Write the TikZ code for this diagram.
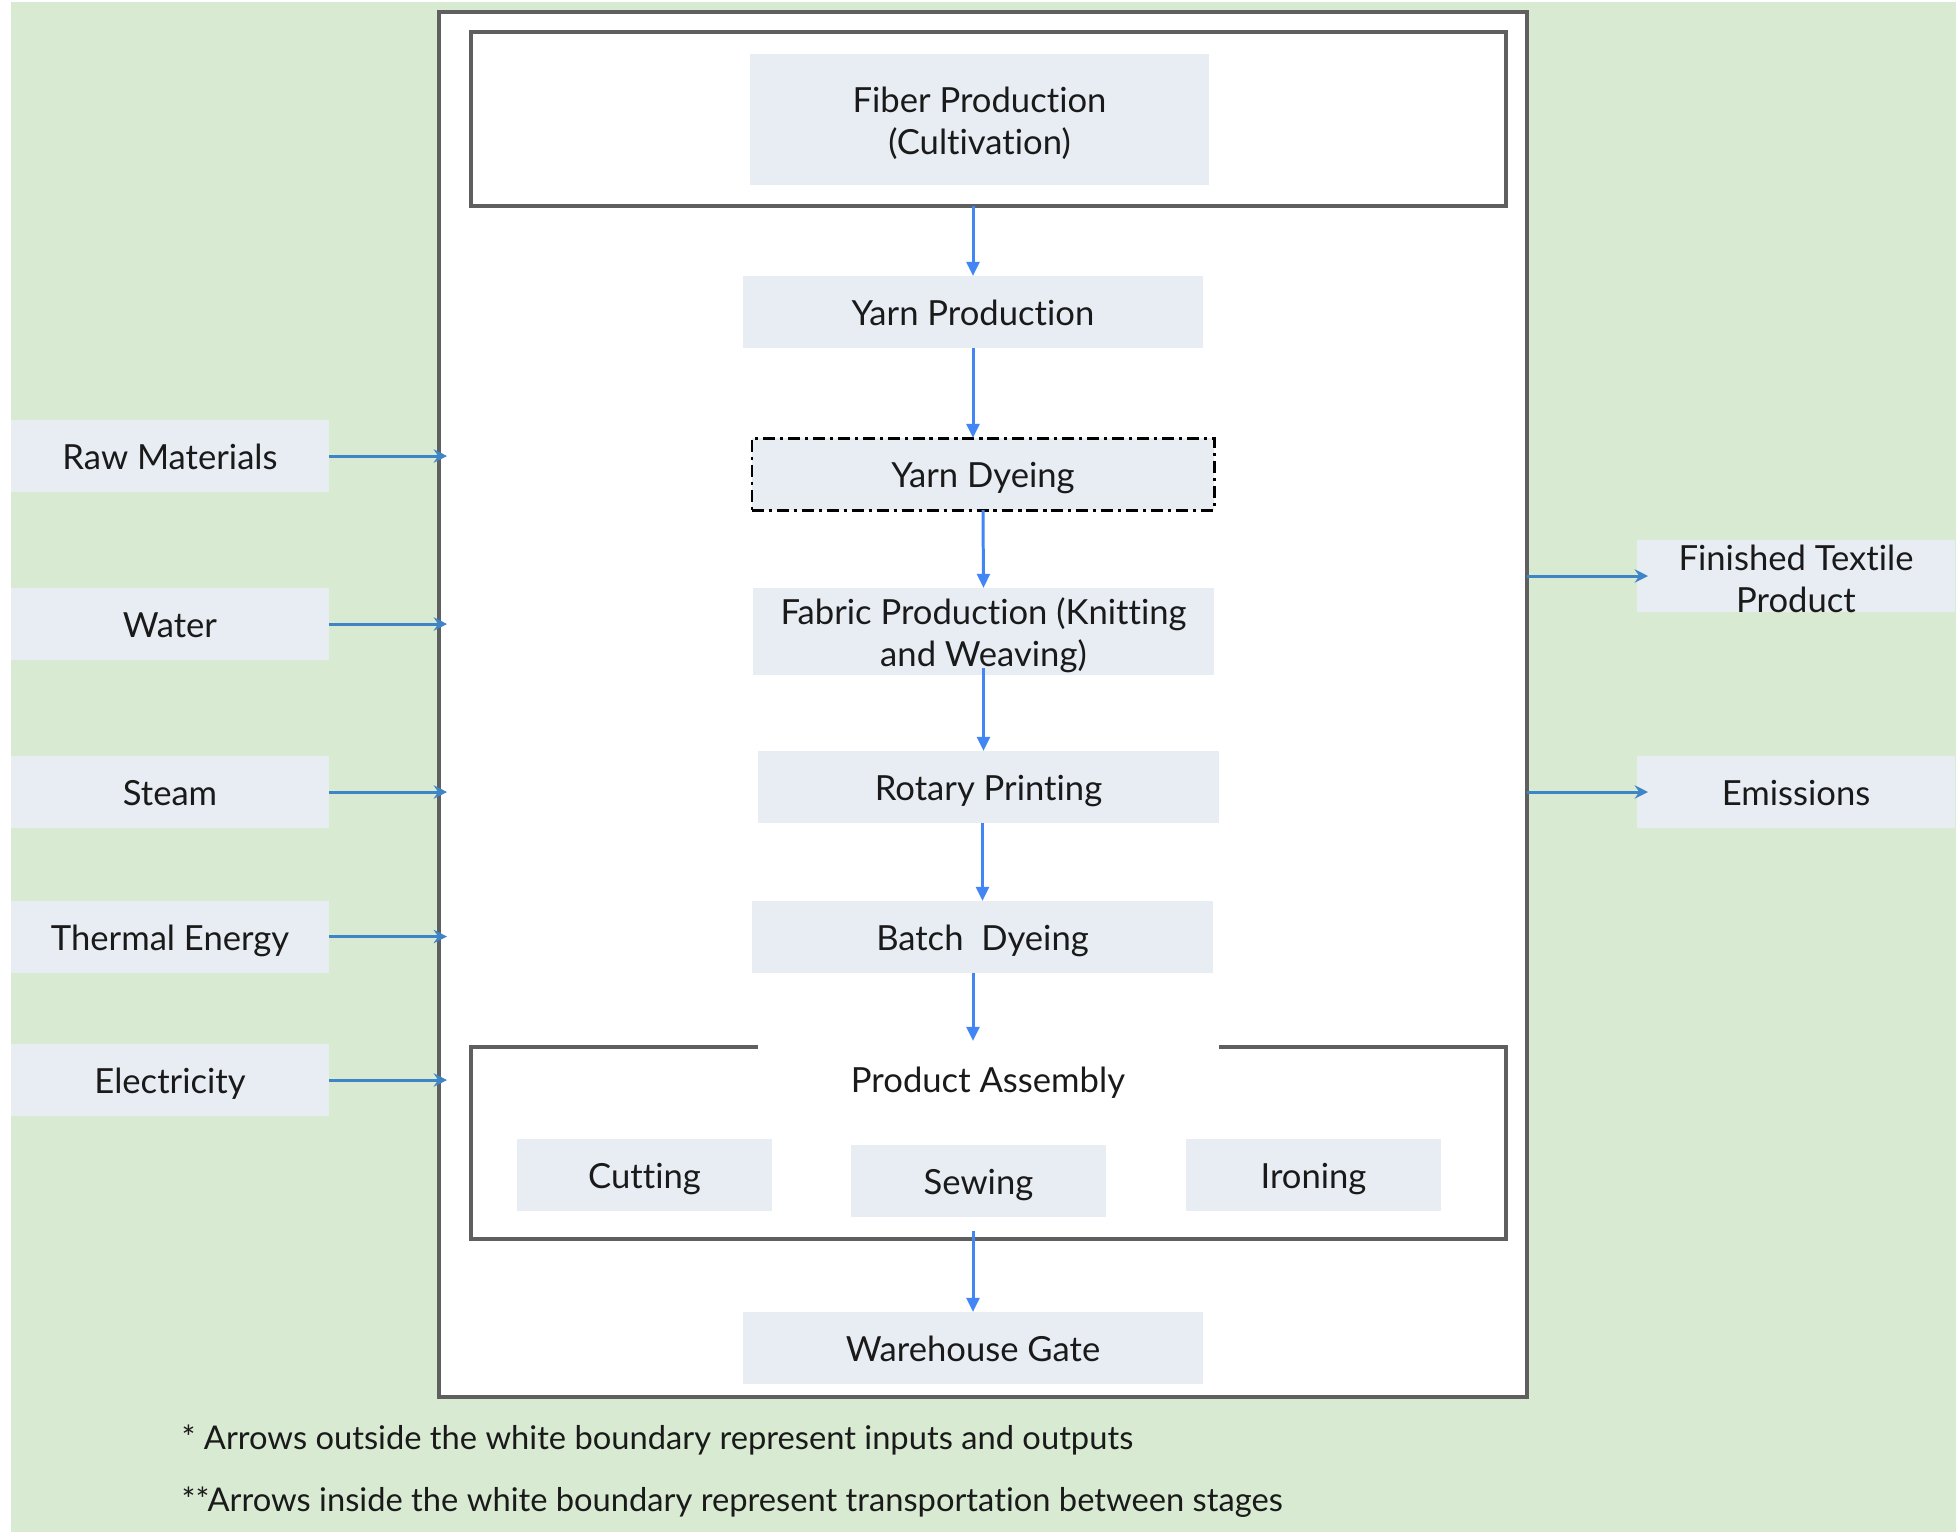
\documentclass[tikz,border=0pt]{standalone}
\usepackage{fontspec}
\setmainfont{Lato}[Ligatures={NoCommon}]
\usetikzlibrary{arrows.meta,positioning,calc}
\definecolor{Sheet}{HTML}{D9EAD3}
\definecolor{Stage}{HTML}{E8EDF4}
\definecolor{Edge}{HTML}{5F5F5F}
\definecolor{Flow}{HTML}{4285F4}
\definecolor{Feed}{HTML}{3D85C6}
\definecolor{Ink}{HTML}{1A1A1A}
\newcommand{\StageBox}[6][]{%
  \node[stagebox,minimum width=#5cm,#1] (#2) at (#3,#4)
    {\raisebox{-\StageDrop}[\height][\depth]{\begin{tabular}{@{}c@{}}#6\end{tabular}}};%
}

\begin{document}
\begin{tikzpicture}[x=1cm,y=-1cm,
  stagedrop/.store in=\StageDrop, stagedrop=1.5pt,
  stagebox/.style={fill=Stage,text=Ink,font=\fontsize{9.85}{12.1}\selectfont,
    minimum height=0.72cm,inner sep=0pt,outer sep=0pt},
  frame/.style={draw=Edge,line width=0.9pt,inner sep=0pt,outer sep=0pt},
  flow/.style={draw=Flow,line width=0.85pt,-{Triangle[length=4pt,width=3.6pt]}},
  feed/.style={draw=Feed,line width=0.85pt,-{Stealth[length=3.8pt,width=3.8pt,inset=1.3pt]}},
  note/.style={anchor=west,inner sep=0pt,text=Ink,font=\fontsize{9.3}{10}\selectfont}]
\useasboundingbox (0,0) rectangle (19.59,15.35);
\fill[Sheet] (0.11,0.02) rectangle (19.56,15.32);
% white boundary and frames
\node[frame,fill=white,minimum width=10.88cm,minimum height=13.85cm] (boundary) at (9.83,7.045) {};
\node[frame,minimum width=10.35cm,minimum height=1.74cm] (fiberbox) at (9.885,1.19) {};
\draw[frame] (7.58,10.47) -| (4.71,12.39) -| (15.06,10.47) -- (12.19,10.47);
\coordinate (asmtop) at (9.73,10.41);
\coordinate (asmbottom) at (9.73,12.31);
% stages
\StageBox[minimum height=1.31cm]{fiber}{9.795}{1.195}{4.59}{Fiber Production\\(Cultivation)}
\StageBox{yarnprod}{9.73}{3.12}{4.60}{Yarn Production}
\StageBox[draw=black,line width=0.85pt,dash pattern=on 3.4pt off 1.4pt on 0.9pt off 1.4pt]{yarndye}{9.83}{4.74}{4.62}{Yarn Dyeing}
\StageBox[minimum height=0.87cm]{fabric}{9.835}{6.315}{4.61}{Fabric Production (Knitting\\and Weaving)}
\StageBox{rotary}{9.885}{7.87}{4.61}{Rotary Printing}
\StageBox{batch}{9.825}{9.37}{4.61}{Batch~ Dyeing}
\node[text=Ink,font=\fontsize{9.85}{12.1}\selectfont,inner sep=0pt] (assembly) at (9.88,10.825) {Product Assembly};
\StageBox{cutting}{6.445}{11.745}{2.55}{Cutting}
\StageBox{sewing}{9.785}{11.805}{2.55}{Sewing}
\StageBox{ironing}{13.135}{11.745}{2.55}{Ironing}
\StageBox{warehouse}{9.73}{13.48}{4.60}{Warehouse Gate}
% transport between stages
\draw[flow] (yarnprod |- fiberbox.south) -- (yarnprod.north);
\draw[flow] (yarnprod.south) -- (yarnprod.south |- yarndye.north);
\draw[flow] (yarndye.south) -- (fabric.north);
\draw[flow] ([yshift=2pt]fabric.south) -- (fabric.south |- rotary.north);
\draw[flow] (rotary.south -| batch) -- (batch.north);
\draw[flow] (batch.south -| asmtop) -- (asmtop);
\draw[flow] (asmbottom) -- (warehouse.north);
% inputs
\foreach \n/\y/\t in {raw/4.56/Raw Materials,water/6.24/Water,steam/7.92/Steam,
    thermal/9.365/Thermal Energy,power/10.80/Electricity} {
  \StageBox{\n}{1.70}{\y}{3.18}{\t}
  \draw[feed] (\n.east) -- ([xshift=0.08cm]\n.east -| boundary.west);
}
% outputs
\StageBox[text height=12.7pt,text depth=7.8pt,stagedrop=2pt]{finished}{17.96}{5.76}{3.18}{Finished Textile\\Product}
\StageBox{emissions}{17.96}{7.92}{3.18}{Emissions}
\draw[feed] (boundary.east |- finished) -- ([xshift=0.11cm]finished.west);
\draw[feed] (boundary.east |- emissions) -- ([xshift=0.11cm]emissions.west);
% notes
\node[note] (noteA) at (1.81,14.395) {* Arrows outside the white boundary represent inputs and outputs};
\node[note] (noteB) at (1.81,15.025) {**Arrows inside the white boundary represent transportation between stages};
\end{tikzpicture}
\end{document}
